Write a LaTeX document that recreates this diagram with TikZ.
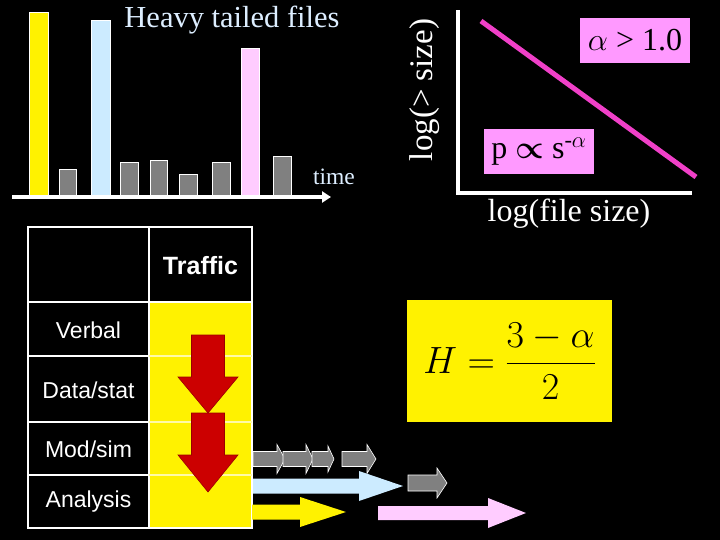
\RequirePackage{fix-cm}
\documentclass[tikz,border=0pt]{standalone}
\usepackage{fontspec}
\setmainfont{Liberation Serif}
\setsansfont{Liberation Sans}
\usepackage{amsmath}
\usetikzlibrary{arrows.meta,positioning}

\definecolor{barblue}{HTML}{CCEBFF}
\definecolor{barpink}{HTML}{FFCCFF}
\definecolor{barpinkbox}{HTML}{FF99FF}
\definecolor{lawline}{HTML}{F040C8}
\definecolor{barred}{HTML}{CC0000}
\definecolor{titletext}{HTML}{DDEEFF}

% horizontal block arrow: style, x1, x2, y, half shaft, half head, head length
\newcommand{\blockarrow}[7]{%
  \draw[#1] (#2,#4-#5) -- (#3-#7,#4-#5) -- (#3-#7,#4-#6) -- (#3,#4)
    -- (#3-#7,#4+#6) -- (#3-#7,#4+#5) -- (#2,#4+#5) -- cycle;}
% vertical block arrow: style, x, y1, y2, half shaft, half head, head length
\newcommand{\downarrowblock}[7]{%
  \draw[#1] (#2-#5,#3) -- (#2-#5,#4-#7) -- (#2-#6,#4-#7) -- (#2,#4)
    -- (#2+#6,#4-#7) -- (#2+#5,#4-#7) -- (#2+#5,#3) -- cycle;}

\begin{document}
\begin{tikzpicture}[x=1pt, y=-1pt,
  bar/.style={draw=white, line width=0.6pt},
  axis/.style={draw=white, line width=3.5pt},
  serifbig/.style={font=\fontsize{32}{36}\selectfont, text=white},
  lawbox/.style={rectangle, fill=barpinkbox, minimum width=110pt,
                 minimum height=45pt, inner sep=0pt, text=black,
                 font=\fontsize{32}{36}\selectfont},
  cell/.style={font=\sffamily\fontsize{23}{26}\selectfont, text=white},
  gridline/.style={draw=white, line width=1.5pt},
  grayarrow/.style={fill=gray, draw=white, line width=0.6pt},
  flatarrow/.style={draw=none},
]
  \useasboundingbox (0,0) rectangle (720,540);
  \fill[black] (0,0) rectangle (720,540);

  % ===== Heavy tailed files: bars over time =====
  \foreach \xl/\xr/\ytop/\col in {29/48/12/yellow, 59/76/169/gray,
      91/110/20/barblue, 120/138/162/gray, 150/167/160/gray,
      179/197/174/gray, 212/230/162/gray, 241/259/48/barpink,
      273/291/156/gray}
    \draw[bar, fill=\col] (\xl,\ytop) rectangle (\xr,195);
  \coordinate (timestart) at (12,197);
  \coordinate (timeend) at (331,197);
  \draw[draw=white, line width=3.5pt, -{Triangle[length=9pt, width=11pt]}]
       (timestart) -- (timeend);
  \node[text=titletext, font=\fontsize{30.5}{34}\selectfont, anchor=base]
       (title) at (232,28) {Heavy tailed files};
  \node[text=titletext, font=\fontsize{23.5}{26}\selectfont, anchor=base]
       (timelabel) at (334,185) {time};

  % ===== Log-log plot =====
  \coordinate (origin) at (458,193);
  \coordinate (ytop) at (458,12);
  \coordinate (xend) at (690,193);
  \draw[axis, line cap=rect] (ytop) -- (origin) -- (xend);
  \coordinate (lawstart) at (481,21);
  \coordinate (lawend) at (696,177);
  \draw[lawline, line width=5pt] (lawstart) -- (lawend);
  \node[lawbox] (alphabox) at (635,40.5) {$\alpha$ > 1.0};
  \node[lawbox] (powerbox) at (539,151.5)
       {p $\boldsymbol{\propto}$ s\textsuperscript{-$\alpha$}};
  \node[serifbig, rotate=90, font=\fontsize{33}{36}\selectfont]
       (ylabel) at (425,90) {log(> size)};
  \node[serifbig, anchor=base] (xlabel) at (569,222) {log(file size)};

  % ===== Traffic table =====
  \fill[yellow] (149,302) rectangle (252,528);
  \draw[gridline] (28,227) rectangle (252,528);
  \draw[gridline] (149,227) -- (149,528);
  \draw[gridline] (28,302) -- (252,302);
  \foreach \y in {356,422,475} {
    \draw[gridline] (28,\y) -- (149,\y);
    \draw[draw=yellow!35!white, line width=1.5pt] (149,\y) -- (252,\y);
  }
  \node[cell, font=\sffamily\bfseries\fontsize{25}{28}\selectfont]
       (traffic) at (200.5,266) {Traffic};
  \node[cell] (verbal)   at (88.5,330) {Verbal};
  \node[cell] (datastat) at (88.5,390) {Data/stat};
  \node[cell] (modsim)   at (88.5,449) {Mod/sim};
  \node[cell] (analysis) at (88.5,502) {Analysis};

  % red arrows down the traffic column
  \downarrowblock{fill=barred, draw=barred!75!black, line width=0.6pt}{208}{335}{413}{16.5}{30}{36}
  \downarrowblock{fill=barred, draw=barred!75!black, line width=0.6pt}{208}{413}{492}{16.5}{30}{37}

  % ===== Arrows along the bottom =====
  \blockarrow{grayarrow}{253}{285}{459}{7.5}{14.5}{8}
  \blockarrow{grayarrow}{283}{313}{459}{7.5}{14.5}{7}
  \blockarrow{grayarrow}{312}{334}{459}{7.5}{13}{6}
  \blockarrow{grayarrow}{342}{376}{459}{7.5}{14.5}{9}
  \blockarrow{grayarrow}{408}{447}{483}{8}{15}{10}
  \blockarrow{flatarrow, fill=barblue}{253}{403}{486}{7.5}{15}{44}
  \blockarrow{flatarrow, fill=yellow}{252}{346}{512}{7.5}{15}{46}
  \blockarrow{flatarrow, fill=barpink}{378}{526}{513}{7}{15}{38}

  % ===== Hurst parameter =====
  \node[rectangle, fill=yellow, minimum width=205pt, minimum height=122pt,
        inner sep=0pt, text=black, font=\fontsize{38}{46}\selectfont]
       (hurst) at (509.5,361) {$\displaystyle H=\frac{3-\alpha}{2}$};
\end{tikzpicture}
\end{document}
